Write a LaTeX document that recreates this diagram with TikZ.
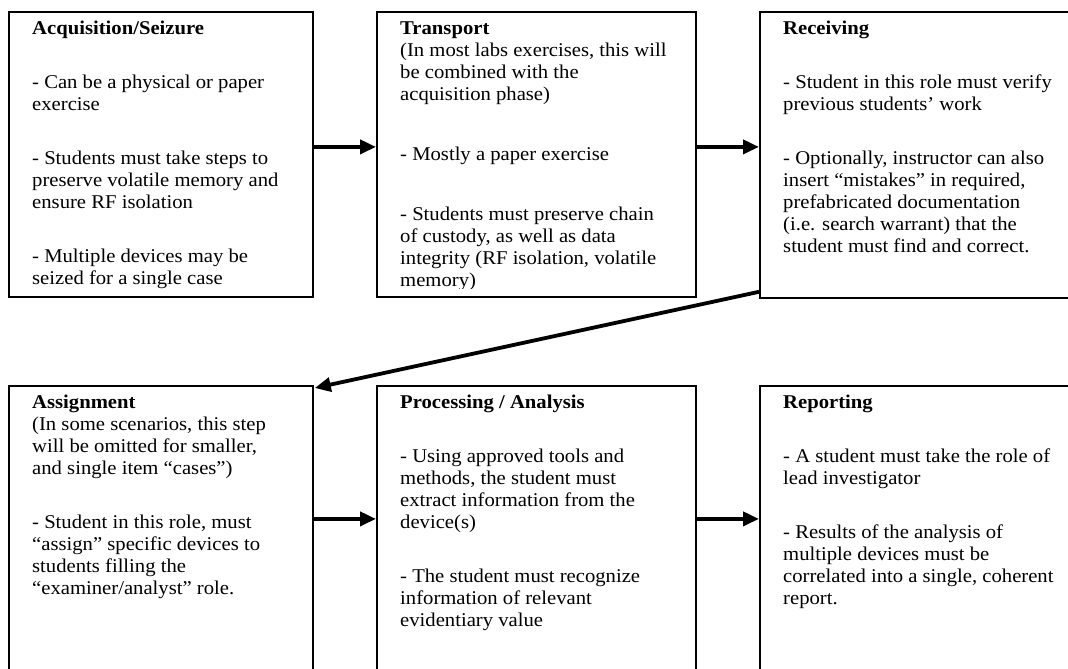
\documentclass[tikz,border=0pt]{standalone}
\usepackage{fontspec}
\setmainfont{Liberation Serif}[FakeStretch=1.06]
\usetikzlibrary{arrows.meta}
\newlength\pgapamt
\setlength\pgapamt{32pt}
\newcommand\pgap{\\[\pgapamt]}
\newcommand\boxtext[1]{\parbox[t]{330pt}{\raggedright\fontsize{19.5pt}{22pt}\selectfont #1}}
\tikzset{
  stage/.style={draw, line width=1.8pt, rectangle, inner sep=0pt, anchor=north west},
  txt/.style={anchor=base west, inner sep=0pt},
  arr/.style={line width=3.8pt, -{Triangle[length=16pt,width=14pt]}},
}
\begin{document}
\begin{tikzpicture}[x=1pt, y=-1pt]
\useasboundingbox (0,0) rectangle (1068,669);
\clip (0,0) rectangle (1068,669);
\node[stage, minimum width=304pt, minimum height=285pt] (b1) at (8,11) {};
\node[stage, minimum width=319pt, minimum height=285pt] (b2) at (376,11) {};
\node[stage, minimum width=320pt, minimum height=286pt] (b3) at (759,11) {};
\node[stage, minimum width=304pt, minimum height=300pt] (b4) at (8,385) {};
\node[stage, minimum width=319pt, minimum height=300pt] (b5) at (376,385) {};
\node[stage, minimum width=320pt, minimum height=300pt] (b6) at (759,385) {};

\begin{scope}
\clip ([yshift=9pt]b1.south west) rectangle (b1.north east);
\node[txt] (t1) at ([xshift=24pt,yshift=-23.5pt]b1.north west) {\boxtext{%
\textbf{Acquisition/Seizure}\pgap
- Can be a physical or paper\\
exercise\pgap
- Students must take steps to\\
preserve volatile memory and\\
ensure RF isolation\pgap
- Multiple devices may be\\
seized for a single case}};
\end{scope}

\begin{scope}
\clip ([yshift=9pt]b2.south west) rectangle (b2.north east);
\node[txt] (t2) at ([xshift=24pt,yshift=-23.5pt]b2.north west) {\boxtext{%
\textbf{Transport}\\
(In most labs exercises, this will\\
be combined with the\\
acquisition phase)\\[38pt]
- Mostly a paper exercise\\[38pt]
- Students must preserve chain\\
of custody, as well as data\\
integrity (RF isolation, volatile\\
memory)}};
\end{scope}

\begin{scope}
\clip ([yshift=9pt]b3.south west) rectangle (b3.north east);
\node[txt] (t3) at ([xshift=24pt,yshift=-23.5pt]b3.north west) {\boxtext{%
\textbf{Receiving}\pgap
- Student in this role must verify\\
previous students’ work\pgap
- Optionally, instructor can also\\
insert “mistakes” in required,\\
prefabricated documentation\\
(i.e. search warrant) that the\\
student must find and correct.}};
\end{scope}

\node[txt] (t4) at ([xshift=24pt,yshift=-23pt]b4.north west) {\boxtext{%
\textbf{Assignment}\\
(In some scenarios, this step\\
will be omitted for smaller,\\
and single item “cases”)\pgap
- Student in this role, must\\
“assign” specific devices to\\
students filling the\\
“examiner/analyst” role.}};

\node[txt] (t5) at ([xshift=24pt,yshift=-23pt]b5.north west) {\boxtext{%
\textbf{Processing / Analysis}\pgap
- Using approved tools and\\
methods, the student must\\
extract information from the\\
device(s)\pgap
- The student must recognize\\
information of relevant\\
evidentiary value}};

\node[txt] (t6) at ([xshift=24pt,yshift=-23pt]b6.north west) {\boxtext{%
\textbf{Reporting}\pgap
- A student must take the role of\\
lead investigator\pgap
- Results of the analysis of\\
multiple devices must be\\
correlated into a single, coherent\\
report.}};

\draw[arr] ([yshift=7.5pt]b1.east) -- ([yshift=7.5pt]b2.west);
\draw[arr] ([yshift=7.5pt]b2.east) -- ([yshift=8pt]b3.west);
\draw[arr] ([yshift=17pt]b4.east) -- ([yshift=17pt]b5.west);
\draw[arr] ([yshift=17pt]b5.east) -- ([yshift=17pt]b6.west);
\draw[arr] ([yshift=7pt]b3.south west) -- ([xshift=1pt,yshift=-3pt]b4.north east);
\end{tikzpicture}
\end{document}
